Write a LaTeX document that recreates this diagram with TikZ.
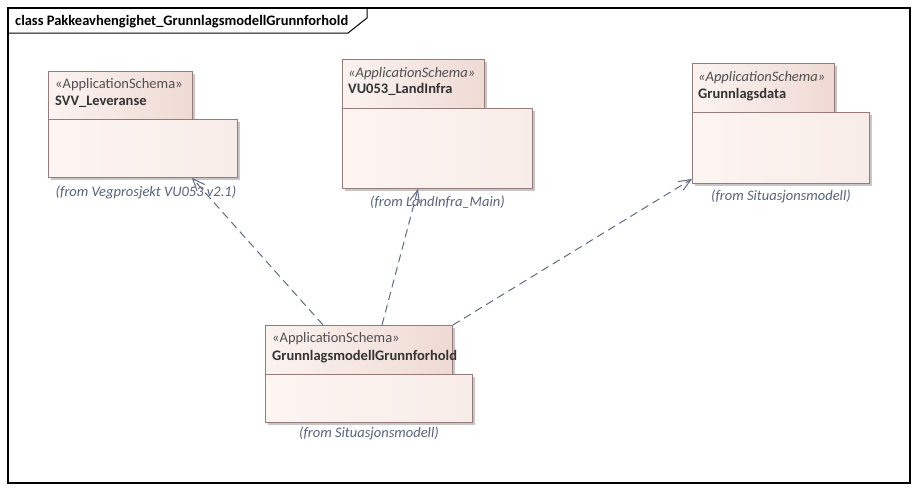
\documentclass[tikz,border=0pt]{standalone}
\usepackage{fontspec}
\setmainfont{Carlito}
\usetikzlibrary{arrows.meta,shadows}
\definecolor{pkgline}{HTML}{977A7A}
\definecolor{pkglight}{HTML}{FBF3F0}
\definecolor{pkgdark}{HTML}{EFDAD4}
\definecolor{bodylight}{HTML}{FCF5F2}
\definecolor{bodydark}{HTML}{F8ECE8}
\definecolor{depline}{HTML}{5E6A86}
\definecolor{fromtext}{HTML}{56617D}
\definecolor{stereotext}{HTML}{505050}

\begin{document}
\begin{tikzpicture}[x=1pt,y=-1pt,
    font=\fontsize{14.5}{17}\selectfont,
    pkgshadow/.style={drop shadow={shadow xshift=3pt,shadow yshift=-3pt,fill=black!22,opacity=1}},
    pkgtab/.style={draw=pkgline,line width=0.9pt,left color=pkglight,right color=pkgdark,anchor=north west,inner sep=0pt,pkgshadow},
    pkgbody/.style={draw=pkgline,line width=0.9pt,left color=bodylight,right color=bodydark,anchor=north west,inner sep=0pt,pkgshadow},
    stereo/.style={anchor=base west,inner sep=0pt,text=stereotext},
    pkgname/.style={anchor=base west,inner sep=0pt,text=black!80,font=\fontsize{14.5}{17}\selectfont\bfseries},
    fromlbl/.style={anchor=base,inner sep=0pt,text=fromtext,font=\fontsize{14.5}{17}\selectfont\itshape},
    dep/.style={depline,line width=1pt,dash pattern=on 8pt off 5pt,-{Straight Barb[length=12pt,width=10pt]}}]
  \useasboundingbox (0,0) rectangle (918,491);

  % frame
  \draw[line width=1.2pt] (8,8) rectangle (910,483);
  \draw[line width=1pt] (8,33) -- (348,33) -- (367,18) -- (367,8);
  \node[anchor=base west,inner sep=0pt,font=\fontsize{14.5}{17}\selectfont\bfseries] (title) at (15,25)
    {class Pakkeavhengighet\_GrunnlagsmodellGrunnforhold};

  % SVV_Leveranse
  \node[pkgtab,minimum width=144pt,minimum height=48pt] (svvtab) at (48,71) {};
  \node[pkgbody,minimum width=189pt,minimum height=58pt] (svvbody) at (48,119) {};
  \node[stereo] (svvst) at ([xshift=7pt,yshift=-17pt]svvtab.north west) {«ApplicationSchema»};
  \node[pkgname] (svvname) at ([xshift=7pt,yshift=-34pt]svvtab.north west) {SVV\_Leveranse};
  \node[fromlbl] (svvfrom) at ([xshift=3pt,yshift=-19pt]svvbody.south) {(from Vegprosjekt VU053 v2.1)};

  % VU053_LandInfra
  \node[pkgtab,minimum width=142pt,minimum height=49pt] (ltab) at (342,59) {};
  \node[pkgbody,minimum width=190pt,minimum height=80pt] (lbody) at (342,108) {};
  \node[stereo,font=\fontsize{14.5}{17}\selectfont\itshape] (lst) at ([xshift=6pt,yshift=-18pt]ltab.north west) {«ApplicationSchema»};
  \node[pkgname] (lname) at ([xshift=6pt,yshift=-34pt]ltab.north west) {VU053\_LandInfra};
  \node[fromlbl] (lfrom) at ([yshift=-18pt]lbody.south) {(from LandInfra\_Main)};

  % Grunnlagsdata
  \node[pkgtab,minimum width=142pt,minimum height=49pt] (gtab) at (692,63) {};
  \node[pkgbody,minimum width=177pt,minimum height=71pt] (gbody) at (692,112) {};
  \node[stereo,font=\fontsize{14.5}{17}\selectfont\itshape] (gst) at ([xshift=6pt,yshift=-18pt]gtab.north west) {«ApplicationSchema»};
  \node[pkgname] (gname) at ([xshift=6pt,yshift=-35pt]gtab.north west) {Grunnlagsdata};
  \node[fromlbl] (gfrom) at ([yshift=-17pt]gbody.south) {(from Situasjonsmodell)};

  % GrunnlagsmodellGrunnforhold
  \node[pkgtab,minimum width=187pt,minimum height=49pt] (gmtab) at (265,325) {};
  \node[pkgbody,minimum width=207pt,minimum height=48pt] (gmbody) at (265,374) {};
  \node[stereo] (gmst) at ([xshift=7pt,yshift=-17pt]gmtab.north west) {«ApplicationSchema»};
  \node[pkgname] (gmname) at ([xshift=7pt,yshift=-35pt]gmtab.north west) {GrunnlagsmodellGrunnforhold};
  \node[fromlbl] (gmfrom) at ([yshift=-15pt]gmbody.south) {(from Situasjonsmodell)};

  % dependencies
  \draw[dep] ([xshift=58pt]gmtab.north west) -- ([xshift=144pt]svvbody.south west);
  \draw[dep] ([xshift=117pt]gmtab.north west) -- ([xshift=76pt]lbody.south west);
  \draw[dep] (gmtab.north east) -- ([yshift=5pt]gbody.south west);
\end{tikzpicture}
\end{document}
